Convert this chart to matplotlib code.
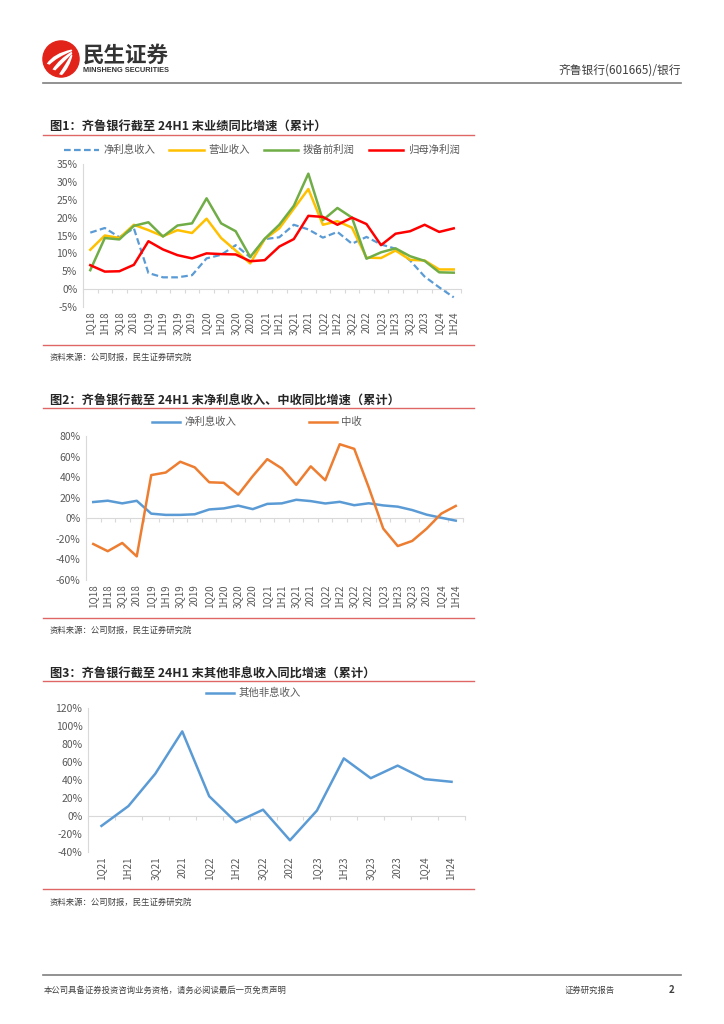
import numpy as np
import matplotlib
matplotlib.use("Agg")
import matplotlib.pyplot as plt
from matplotlib.lines import Line2D
from matplotlib.patches import Circle, PathPatch
from matplotlib.path import Path
from matplotlib.ticker import FuncFormatter

plt.rcParams['font.family'] = ['Noto Sans CJK SC', 'DejaVu Sans']

# ── Data ────────────────────────────────────────────────────────────────────
periods_long = ['1Q18', '1H18', '3Q18', '2018', '1Q19', '1H19', '3Q19', '2019',
                '1Q20', '1H20', '3Q20', '2020', '1Q21', '1H21', '3Q21', '2021',
                '1Q22', '1H22', '3Q22', '2022', '1Q23', '1H23', '3Q23', '2023',
                '1Q24', '1H24']
nii = [15.8, 17.1, 14.5, 17.0, 4.5, 3.3, 3.3, 3.9, 8.6, 9.6, 12.3, 8.9,
       14.0, 14.5, 18.0, 16.7, 14.4, 16.0, 12.7, 14.6, 12.5, 11.3, 8.0, 3.5,
       0.5, -2.3]
revenue = [11.0, 15.0, 14.3, 18.0, 16.5, 14.8, 16.5, 15.7, 19.7, 14.3, 10.8, 7.2,
           14.0, 17.0, 22.5, 28.0, 18.0, 19.0, 17.2, 8.8, 8.7, 10.8, 8.2, 8.0,
           5.5, 5.5]
ppop = [5.3, 14.3, 13.9, 17.7, 18.7, 14.7, 17.8, 18.4, 25.4, 18.4, 16.2, 9.0,
        14.1, 18.0, 23.3, 32.3, 19.3, 22.7, 20.0, 8.5, 10.3, 11.4, 9.2, 7.9,
        4.7, 4.6]
net_profit = [6.7, 4.9, 5.0, 6.8, 13.4, 11.1, 9.5, 8.6, 10.0, 9.8, 9.7, 7.8,
              8.1, 11.9, 14.0, 20.5, 20.2, 18.0, 20.0, 18.2, 12.3, 15.5, 16.2, 18.0,
              16.0, 17.0]
fee_income = [-25, -32, -24, -37, 42, 44.5, 55, 49.5, 35, 34.5, 23, 41,
              57.5, 48.5, 32.5, 50.5, 37, 72, 67.5, 30, -10, -27, -22, -10,
              4.5, 12]

periods_short = ['1Q21', '1H21', '3Q21', '2021', '1Q22', '1H22', '3Q22', '2022',
                 '1Q23', '1H23', '3Q23', '2023', '1Q24', '1H24']
other_nonint = [-11, 11, 47, 94, 22, -7, 7, -27, 6, 64, 42, 56, 41, 38]

# ── Style ───────────────────────────────────────────────────────────────────
C_BLUE = "#5B9BD5"
C_YELLOW = "#FFC000"
C_GREEN = "#70AD47"
C_RED = "#FF0000"
C_ORANGE = "#ED7D31"
C_TEXT = "#595959"
C_AXIS = "#D9D9D9"
C_RULE = "#E06666"
W, H = 724, 1024

fig = plt.figure(figsize=(7.24, 10.24), dpi=100)


def fx(x):
    return x / W


def fy(y):
    return 1 - y / H


def hline(y, x0, x1, color, lw=1.0):
    fig.add_artist(Line2D([fx(x0), fx(x1)], [fy(y), fy(y)], color=color, lw=lw,
                          transform=fig.transFigure))


def make_axes(left, right, top, bottom, ylim, step, labels):
    ax = fig.add_axes([fx(left), fy(bottom), fx(right) - fx(left), (bottom - top) / H])
    n = len(labels)
    ax.set_xlim(-0.5, n - 0.5)
    ax.set_ylim(*ylim)
    ax.set_yticks(np.arange(ylim[0], ylim[1] + 0.1, step))
    ax.yaxis.set_major_formatter(FuncFormatter(lambda v, p: f"{v:.0f}%"))
    ax.set_xticks(range(n))
    ax.set_xticklabels(labels, rotation=90)
    ax.tick_params(axis='x', length=0, labelsize=7, labelcolor=C_TEXT, pad=3)
    ax.tick_params(axis='y', length=0, labelsize=7.5, labelcolor=C_TEXT, pad=4)
    for s in ['top', 'right', 'bottom']:
        ax.spines[s].set_visible(False)
    ax.spines['left'].set_color(C_AXIS)
    ax.spines['left'].set_linewidth(0.8)
    # zero line with category boundary ticks
    loc = (0 - ylim[0]) / (ylim[1] - ylim[0])
    sec = ax.secondary_xaxis(loc)
    sec.set_xticks(np.arange(-0.5, n, 1))
    sec.set_xticklabels([])
    sec.tick_params(direction='out', length=3, color=C_AXIS, width=0.8)
    sec.spines['bottom'].set_color(C_AXIS)
    sec.spines['bottom'].set_linewidth(0.8)
    ax.patch.set_alpha(0)
    return ax


def section(title, title_y, rule_y, bottom_rule_y, source_y):
    fig.text(fx(50), fy(title_y), title, fontsize=8.8, fontweight='bold',
             color='#262626', va='center', ha='left')
    hline(rule_y, 43, 474, C_RULE, 1.0)
    hline(bottom_rule_y, 43, 474, C_RULE, 1.0)
    fig.text(fx(50), fy(source_y), "资料来源：公司财报，民生证券研究院", fontsize=6,
             color='#404040', va='center', ha='left')


# ── Header ──────────────────────────────────────────────────────────────────
logo = fig.add_axes([fx(42), fy(78), fx(38), 38 / H])
logo.set_xlim(-1, 1)
logo.set_ylim(-1, 1)
logo.set_aspect('equal')
logo.axis('off')
logo.add_patch(Circle((0, 0), 0.95, color="#E2231A"))
for k, (sx, sy) in enumerate([(-0.75, -0.25), (-0.45, -0.55), (-0.1, -0.8)]):
    verts = [(sx, sy), (sx + 0.35, sy + 0.55), (0.55, 0.5 - 0.12 * k),
             (0.6, 0.42 - 0.12 * k), (sx + 0.55, sy + 0.35), (sx + 0.15, sy - 0.05), (sx, sy)]
    codes = [Path.MOVETO, Path.CURVE3, Path.CURVE3, Path.LINETO,
             Path.CURVE3, Path.CURVE3, Path.CLOSEPOLY]
    logo.add_patch(PathPatch(Path(verts, codes), facecolor='white', edgecolor='none'))

fig.text(fx(83), fy(55), "民生证券", fontsize=15.5, fontweight='bold', color='#333333',
         va='center', ha='left')
fig.text(fx(83), fy(70.5), "MINSHENG SECURITIES", fontsize=5.3, fontweight='bold',
         color='#333333', va='center', ha='left', family='Liberation Sans')
fig.text(fx(681), fy(70), "齐鲁银行(601665)/银行", fontsize=8.5, color='#404040',
         va='center', ha='right')
hline(83, 43, 681, '#7F7F7F', 1.2)

# ── Chart 1 ─────────────────────────────────────────────────────────────────
section("图1：齐鲁银行截至 24H1 末业绩同比增速（累计）", 127, 135, 345, 357)
ax1 = make_axes(83, 461, 164, 307, (-5, 35), 5, periods_long)
x = np.arange(len(periods_long))
ax1.plot(x, nii, color=C_BLUE, lw=1.6, dashes=(3, 1.5), label="净利息收入")
ax1.plot(x, revenue, color=C_YELLOW, lw=1.8, label="营业收入")
ax1.plot(x, ppop, color=C_GREEN, lw=1.8, label="拨备前利润")
ax1.plot(x, net_profit, color=C_RED, lw=1.8, label="归母净利润")
fig.legend(*ax1.get_legend_handles_labels(), loc='center', ncol=4,
           bbox_to_anchor=(fx(262), fy(150)), frameon=False, fontsize=7.5,
           labelcolor=C_TEXT, handlelength=3.3, columnspacing=1.4, handletextpad=0.4)

# ── Chart 2 ─────────────────────────────────────────────────────────────────
section("图2：齐鲁银行截至 24H1 末净利息收入、中收同比增速（累计）", 401, 408, 618, 630)
ax2 = make_axes(86, 463, 436, 580, (-60, 80), 20, periods_long)
ax2.plot(x, nii, color=C_BLUE, lw=1.8, label="净利息收入")
ax2.plot(x, fee_income, color=C_ORANGE, lw=1.8, label="中收")
fig.legend(*ax2.get_legend_handles_labels(), loc='center', ncol=2,
           bbox_to_anchor=(fx(257), fy(422)), frameon=False, fontsize=7.5,
           labelcolor=C_TEXT, handlelength=2.7, columnspacing=7.0, handletextpad=0.4)

# ── Chart 3 ─────────────────────────────────────────────────────────────────
section("图3：齐鲁银行截至 24H1 末其他非息收入同比增速（累计）", 674, 681, 889, 902)
ax3 = make_axes(88, 465, 708, 852, (-40, 120), 20, periods_short)
x3 = np.arange(len(periods_short))
ax3.plot(x3, other_nonint, color=C_BLUE, lw=1.8, label="其他非息收入")
fig.legend(*ax3.get_legend_handles_labels(), loc='center', ncol=1,
           bbox_to_anchor=(fx(253), fy(693)), frameon=False, fontsize=7.5,
           labelcolor=C_TEXT, handlelength=2.7, handletextpad=0.4)

# ── Footer ──────────────────────────────────────────────────────────────────
hline(975, 43, 681, '#7F7F7F', 1.2)
fig.text(fx(44), fy(990), "本公司具备证券投资咨询业务资格，请务必阅读最后一页免责声明",
         fontsize=6, color='#404040', va='center', ha='left')
fig.text(fx(565), fy(990), "证券研究报告", fontsize=6, color='#404040', va='center', ha='left')
fig.text(fx(672), fy(990), "2", fontsize=7, fontweight='bold', color='#404040',
         va='center', ha='center')

fig.savefig("out.png", dpi=100)
